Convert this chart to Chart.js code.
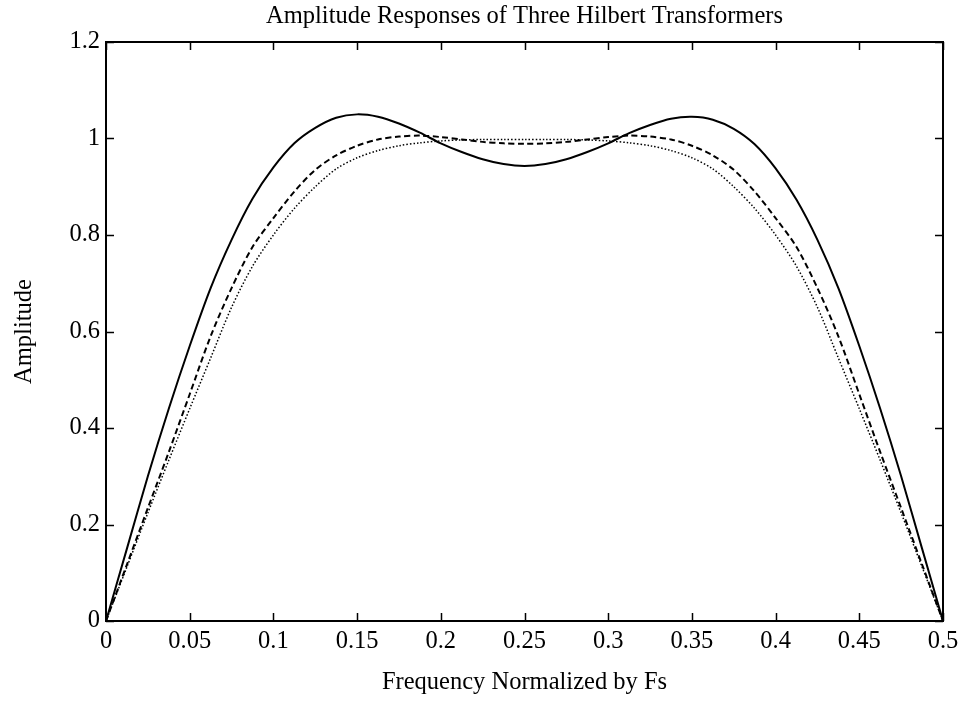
<!DOCTYPE html>
<html>
<head>
<meta charset="utf-8">
<script src="https://cdn.jsdelivr.net/npm/chart.js@4.4.0/dist/chart.umd.min.js"></script>
<style>
  body { margin: 0; background: #fff; }
  #wrap { width: 961px; height: 707px; }
</style>
</head>
<body>
<div id="wrap"><canvas id="hilbert-chart"></canvas></div>
<script>
// Normalized frequency samples (0 .. 0.5)
const freq = [0, 0.0125, 0.025, 0.0375, 0.05, 0.0625, 0.075, 0.0875, 0.1, 0.1125,
    0.125, 0.1375, 0.15, 0.1625, 0.175, 0.1875, 0.2, 0.2125, 0.225, 0.2375,
    0.25, 0.2625, 0.275, 0.2875, 0.3, 0.3125, 0.325, 0.3375, 0.35, 0.3625,
    0.375, 0.3875, 0.4, 0.4125, 0.425, 0.4375, 0.45, 0.4625, 0.475, 0.4875, 0.5];

// Amplitude
const solidAmp = [0, 0.15, 0.30, 0.44, 0.57, 0.69, 0.79, 0.875, 0.94, 0.99,
    1.022, 1.043, 1.05, 1.045, 1.031, 1.012, 0.99, 0.972, 0.957, 0.947,
    0.943, 0.947, 0.957, 0.972, 0.99, 1.011, 1.028, 1.041, 1.045, 1.039,
    1.02, 0.988, 0.938, 0.873, 0.79, 0.69, 0.57, 0.44, 0.30, 0.15, 0];
const dashedAmp = [0, 0.117, 0.234, 0.35, 0.47, 0.59, 0.69, 0.775, 0.835, 0.89,
    0.935, 0.965, 0.985, 0.998, 1.004, 1.006, 1.003, 0.998, 0.993, 0.99,
    0.989, 0.99, 0.993, 0.998, 1.003, 1.006, 1.004, 0.998, 0.985, 0.965,
    0.935, 0.89, 0.835, 0.775, 0.69, 0.59, 0.47, 0.35, 0.234, 0.117, 0];
const dottedAmp = [0, 0.112, 0.224, 0.333, 0.44, 0.545, 0.65, 0.735, 0.80, 0.855,
    0.90, 0.937, 0.96, 0.975, 0.985, 0.991, 0.995, 0.997, 0.998, 0.998,
    0.998, 0.998, 0.998, 0.997, 0.995, 0.991, 0.985, 0.975, 0.96, 0.937,
    0.90, 0.855, 0.80, 0.735, 0.65, 0.545, 0.44, 0.333, 0.224, 0.112, 0];

// Tick values and labels
const xTickValues = [0, 0.05, 0.1, 0.15, 0.2, 0.25, 0.3, 0.35, 0.4, 0.45, 0.5];
const xTickLabels = ['0', '0.05', '0.1', '0.15', '0.2', '0.25', '0.3', '0.35', '0.4', '0.45', '0.5'];
const yTickValues = [0, 0.2, 0.4, 0.6, 0.8, 1, 1.2];
const yTickLabels = ['0', '0.2', '0.4', '0.6', '0.8', '1', '1.2'];

const chartTitle = 'Amplitude Responses of Three Hilbert Transformers';
const serif = "'Liberation Serif', 'Times New Roman', serif";

function toPoints(values) {
    return freq.map((f, i) => ({ x: f, y: values[i] }));
}

// Box around the plot with inward ticks on all four sides, title centred over the plot
const frameTicks = {
    id: 'frameTicks',
    afterDatasetsDraw(chart) {
        const { ctx, chartArea: a, scales: { x, y } } = chart;
        ctx.save();
        ctx.strokeStyle = '#000';
        ctx.lineWidth = 1.5;
        ctx.beginPath();
        x.ticks.forEach(t => {
            const px = Math.round(x.getPixelForValue(t.value)) + 0.5;
            ctx.moveTo(px, a.bottom); ctx.lineTo(px, a.bottom - 8);
            ctx.moveTo(px, a.top); ctx.lineTo(px, a.top + 8);
        });
        y.ticks.forEach(t => {
            const py = Math.round(y.getPixelForValue(t.value)) + 0.5;
            ctx.moveTo(a.left, py); ctx.lineTo(a.left + 8, py);
            ctx.moveTo(a.right, py); ctx.lineTo(a.right - 8, py);
        });
        ctx.stroke();
        ctx.lineWidth = 2;
        ctx.strokeRect(a.left, a.top, a.right - a.left, a.bottom - a.top);

        ctx.fillStyle = '#000';
        ctx.font = '24.5px ' + serif;
        ctx.textAlign = 'center';
        ctx.textBaseline = 'middle';
        ctx.fillText(chartTitle, (a.left + a.right) / 2, 17);
        ctx.restore();
    }
};

const ctx = document.getElementById('hilbert-chart').getContext('2d');
const hilbertChart = new Chart(ctx, {
    type: 'line',
    data: {
        datasets: [{
            data: toPoints(solidAmp),
            borderColor: '#000',
            borderWidth: 2,
        }, {
            data: toPoints(dashedAmp),
            borderColor: '#000',
            borderWidth: 2,
            borderDash: [6, 3.5],
        }, {
            data: toPoints(dottedAmp),
            borderColor: '#000',
            borderWidth: 1.5,
            borderDash: [1.5, 2],
        }]
    },
    options: {
        responsive: true,
        maintainAspectRatio: false,
        animation: false,
        layout: { padding: { top: 42, right: 18, bottom: 0, left: 0 } },
        elements: {
            point: { radius: 0 },
            line: { tension: 0.3, fill: false }
        },
        plugins: {
            legend: { display: false },
            tooltip: { enabled: false },
            title: { display: false }
        },
        scales: {
            x: {
                type: 'linear',
                min: 0,
                max: 0.5,
                grid: { display: false },
                border: { display: false },
                afterBuildTicks: scale => { scale.ticks = xTickValues.map(v => ({ value: v })); },
                afterFit: scale => { scale.height = 86; },
                ticks: {
                    color: '#000',
                    padding: -2,
                    maxRotation: 0,
                    font: { family: serif, size: 24.5 },
                    callback: (value, index) => xTickLabels[index]
                },
                title: {
                    display: true,
                    text: 'Frequency Normalized by Fs',
                    color: '#000',
                    font: { family: serif, size: 24.5, lineHeight: 1.2 },
                    padding: { top: 0, bottom: 10 }
                }
            },
            y: {
                type: 'linear',
                min: 0,
                max: 1.2,
                grid: { display: false },
                border: { display: false },
                afterBuildTicks: scale => { scale.ticks = yTickValues.map(v => ({ value: v })); },
                afterFit: scale => { scale.width = 106; },
                ticks: {
                    color: '#000',
                    padding: -2,
                    font: { family: serif, size: 24.5 },
                    callback: (value, index) => yTickLabels[index]
                },
                title: {
                    display: true,
                    text: 'Amplitude',
                    color: '#000',
                    font: { family: serif, size: 24.5, lineHeight: 1.2 },
                    padding: { top: 10, bottom: 0 }
                }
            }
        }
    },
    plugins: [frameTicks]
});
</script>
</body>
</html>
